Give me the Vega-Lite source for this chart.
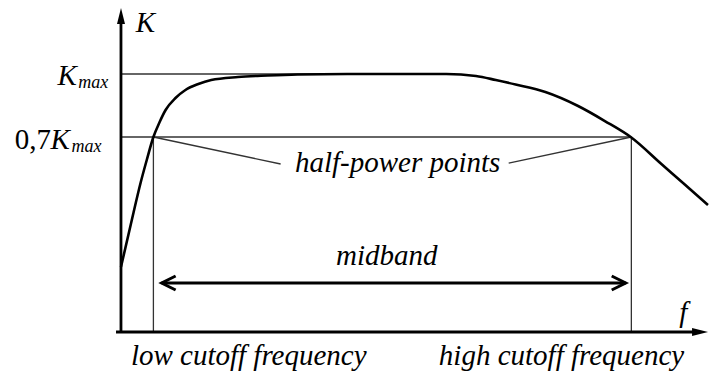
{
  "$schema": "https://vega.github.io/schema/vega-lite/v6.json",
  "width": 714,
  "height": 376,
  "autosize": {"type": "fit", "contains": "padding"},
  "padding": 0,
  "background": "white",
  "config": {"view": {"stroke": null}, "text": {"font": "Liberation Serif", "color": "black", "baseline": "alphabetic", "fontWeight": "normal"}},
  "encoding": {
    "x": {"field": "f", "type": "quantitative", "axis": null, "scale": {"domain": [-1.22, 5.92], "nice": false, "zero": false}},
    "y": {"field": "K", "type": "quantitative", "axis": null, "scale": {"domain": [-0.1705, 1.2868], "nice": false, "zero": false}}
  },
  "layer": [
    {
      "data": {"values": [
        {"seg": "Kmax level", "f": 0, "K": 1.0, "f2": 3.28, "K2": 1.0},
        {"seg": "0.7 Kmax level", "f": 0, "K": 0.7558, "f2": 5.147, "K2": 0.7558},
        {"seg": "low cutoff", "f": 0.327, "K": 0.7558, "f2": 0.327, "K2": 0},
        {"seg": "high cutoff", "f": 5.147, "K": 0.7558, "f2": 5.147, "K2": 0},
        {"seg": "leader left", "f": 0.327, "K": 0.7558, "f2": 1.61, "K2": 0.6512},
        {"seg": "leader right", "f": 3.91, "K": 0.655, "f2": 5.147, "K2": 0.7558}
      ]},
      "mark": {"type": "rule", "color": "#333333", "strokeWidth": 1.3},
      "encoding": {"x2": {"field": "f2"}, "y2": {"field": "K2"}}
    },
    {
      "data": {"values": [
        {"f": 0, "K": 0.2519}, {"f": 0.10, "K": 0.4186}, {"f": 0.20, "K": 0.5814},
        {"f": 0.26, "K": 0.6667}, {"f": 0.327, "K": 0.7558}, {"f": 0.39, "K": 0.8140},
        {"f": 0.45, "K": 0.8605}, {"f": 0.55, "K": 0.9070}, {"f": 0.65, "K": 0.9380},
        {"f": 0.78, "K": 0.9612}, {"f": 0.91, "K": 0.9767}, {"f": 1.18, "K": 0.9884},
        {"f": 1.48, "K": 0.9942}, {"f": 1.78, "K": 0.9981}, {"f": 2.28, "K": 1.0},
        {"f": 3.28, "K": 1.0}, {"f": 3.58, "K": 0.9922}, {"f": 3.78, "K": 0.9767},
        {"f": 3.98, "K": 0.9593}, {"f": 4.28, "K": 0.9302}, {"f": 4.61, "K": 0.8760},
        {"f": 4.88, "K": 0.8178}, {"f": 5.147, "K": 0.7539}, {"f": 5.45, "K": 0.6512},
        {"f": 5.68, "K": 0.5736}, {"f": 5.92, "K": 0.4922}
      ]},
      "mark": {"type": "line", "color": "black", "strokeWidth": 2.6, "interpolate": "monotone"},
      "encoding": {}
    },
    {
      "data": {"values": [
        {"axis": "K", "f": 0, "K": -0.004, "f2": 0, "K2": 1.2093},
        {"axis": "f", "f": -0.05, "K": 0, "f2": 5.84, "K2": 0}
      ]},
      "mark": {"type": "rule", "color": "black", "strokeWidth": 2.8},
      "encoding": {"x2": {"field": "f2"}, "y2": {"field": "K2"}}
    },
    {
      "data": {"values": [{"f": 0, "K": 1.2248}]},
      "mark": {"type": "point", "shape": "M0,-1L0.5,1L-0.5,1Z", "size": 256, "filled": true, "color": "black", "opacity": 1}
    },
    {
      "data": {"values": [{"f": 5.84, "K": 0}]},
      "mark": {"type": "point", "shape": "M1,0L-1,0.5L-1,-0.5Z", "size": 256, "filled": true, "color": "black", "opacity": 1}
    },
    {
      "data": {"values": [{"f": 0.41, "K": 0.1899, "f2": 5.09, "K2": 0.1899}]},
      "mark": {"type": "rule", "color": "black", "strokeWidth": 3},
      "encoding": {"x2": {"field": "f2"}, "y2": {"field": "K2"}}
    },
    {
      "data": {"values": [{"f": 5.09, "K": 0.1899}]},
      "mark": {"type": "point", "shape": "M-1,-0.5L0,0L-1,0.5", "size": 784, "filled": false, "stroke": "black", "strokeWidth": 3, "opacity": 1}
    },
    {
      "data": {"values": [{"f": 0.41, "K": 0.1899}]},
      "mark": {"type": "point", "shape": "M1,-0.5L0,0L1,0.5", "size": 784, "filled": false, "stroke": "black", "strokeWidth": 3, "opacity": 1}
    },
    {
      "data": {"values": [{"label": "0,7", "f": -1.07, "K": 0.7093}]},
      "mark": {"type": "text", "font": "Liberation Serif", "fontSize": 29, "align": "left"},
      "encoding": {"text": {"field": "label"}}
    },
    {
      "data": {"values": [
        {"label": "max", "f": -0.43, "K": 0.9457},
        {"label": "max", "f": -0.50, "K": 0.6977}
      ]},
      "mark": {"type": "text", "font": "Liberation Serif", "fontStyle": "italic", "fontSize": 18, "align": "left"},
      "encoding": {"text": {"field": "label"}}
    },
    {
      "data": {"values": [{"label": "low cutoff frequency", "f": 0.10, "K": -0.1279}]},
      "mark": {"type": "text", "font": "Liberation Serif", "fontStyle": "italic", "fontSize": 29, "align": "left"},
      "encoding": {"text": {"field": "label"}}
    },
    {
      "data": {"values": [{"label": "high cutoff frequency", "f": 5.68, "K": -0.1279}]},
      "mark": {"type": "text", "font": "Liberation Serif", "fontStyle": "italic", "fontSize": 29, "align": "right"},
      "encoding": {"text": {"field": "label"}}
    },
    {
      "data": {"values": [{"label": "half-power points", "f": 2.79, "K": 0.6202}]},
      "mark": {"type": "text", "font": "Liberation Serif", "fontStyle": "italic", "fontSize": 29, "align": "center"},
      "encoding": {"text": {"field": "label"}}
    },
    {
      "data": {"values": [{"label": "midband", "f": 2.68, "K": 0.2597}]},
      "mark": {"type": "text", "font": "Liberation Serif", "fontStyle": "italic", "fontSize": 29, "align": "center"},
      "encoding": {"text": {"field": "label"}}
    },
    {
      "data": {"values": [{"label": "f", "f": 5.67, "K": 0.0388}]},
      "mark": {"type": "text", "font": "Liberation Serif", "fontStyle": "italic", "fontSize": 29, "align": "center"},
      "encoding": {"text": {"field": "label"}}
    },
    {
      "data": {"values": [
        {"label": "K", "f": 0.15, "K": 1.1628},
        {"label": "K", "f": -0.64, "K": 0.9574},
        {"label": "K", "f": -0.71, "K": 0.7093}
      ]},
      "mark": {"type": "text", "font": "Liberation Serif", "fontStyle": "italic", "fontSize": 29, "align": "left"},
      "encoding": {"text": {"field": "label"}}
    }
  ]
}
